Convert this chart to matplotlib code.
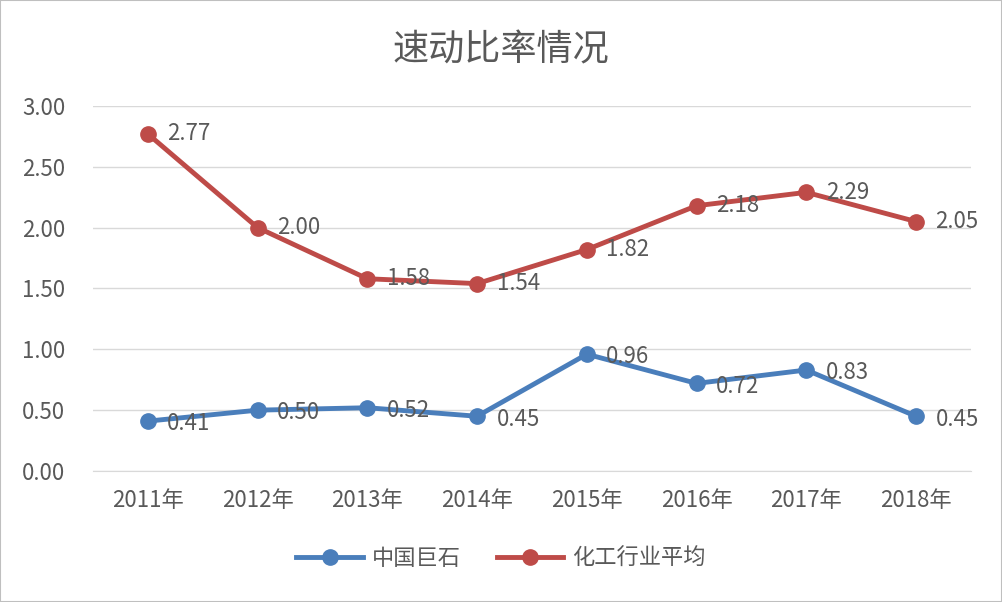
import matplotlib.pyplot as plt

plt.rcParams['font.family'] = ['Noto Sans CJK SC', 'DejaVu Sans']

years = ['2011年', '2012年', '2013年', '2014年', '2015年', '2016年', '2017年', '2018年']
jushi = [0.41, 0.50, 0.52, 0.45, 0.96, 0.72, 0.83, 0.45]
industry_avg = [2.77, 2.00, 1.58, 1.54, 1.82, 2.18, 2.29, 2.05]
yticks = [0.0, 0.5, 1.0, 1.5, 2.0, 2.5, 3.0]

blue = '#4a7ebb'
red = '#be4b48'
gray = '#595959'

fig = plt.figure(figsize=(10.02, 6.02), dpi=100)
fig.patches.append(plt.Rectangle((0, 0), 1, 1, transform=fig.transFigure,
                                 fill=False, edgecolor='#bfbfbf', lw=1.5))

ax = fig.add_axes([0.0928, 0.2176, 0.8762, 0.6064])

x = list(range(len(years)))
ax.plot(x, jushi, color=blue, lw=3.5, marker='o', ms=11, label='中国巨石', zorder=3)
ax.plot(x, industry_avg, color=red, lw=3.5, marker='o', ms=11, label='化工行业平均', zorder=3)

# data labels to the right of each point
for xi, v in zip(x, jushi):
    ax.annotate(f'{v:.2f}', (xi, v), xytext=(14, -2), textcoords='offset points',
                va='center', ha='left', fontsize=16, color=gray)
for xi, v in zip(x, industry_avg):
    ax.annotate(f'{v:.2f}', (xi, v), xytext=(14, 0), textcoords='offset points',
                va='center', ha='left', fontsize=16, color=gray)

ax.set_xlim(-0.5, len(years) - 0.5)
ax.set_ylim(0, 3)
ax.set_yticks(yticks)
ax.set_yticklabels([f'{t:.2f}' for t in yticks])
ax.set_xticks(x)
ax.set_xticklabels(years)
ax.tick_params(axis='both', length=0, labelsize=16, labelcolor=gray)
ax.tick_params(axis='x', pad=13)
ax.tick_params(axis='y', pad=20)
ax.grid(axis='y', color='#d9d9d9', lw=1)
ax.set_axisbelow(True)
for s in ['top', 'right', 'left']:
    ax.spines[s].set_visible(False)
ax.spines['bottom'].set_color('#d9d9d9')

fig.text(0.5, 0.917, '速动比率情况', ha='center', va='center', fontsize=26, color=gray)
fig.legend(loc='center', bbox_to_anchor=(0.5, 0.073), ncol=2, frameon=False,
           fontsize=16, labelcolor=gray, handlelength=3, columnspacing=1.6,
           handletextpad=0.4)

fig.savefig('out.png', dpi=100)
